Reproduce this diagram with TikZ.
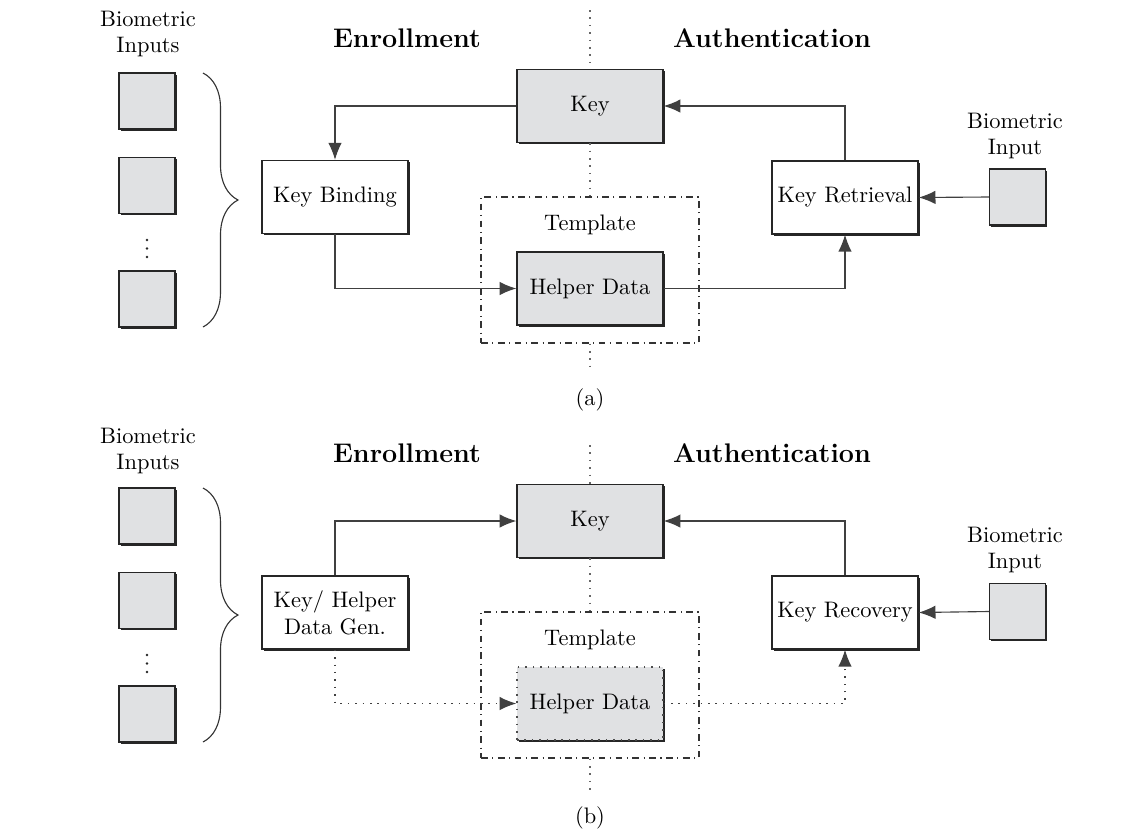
\documentclass[tikz,border=0pt]{standalone}
\usetikzlibrary{arrows.meta,shadows,decorations.pathreplacing}
\definecolor{boxgray}{RGB}{224,225,227}

\tikzset{
  blk/.style={draw=black!85, line width=0.6pt, fill=white, inner sep=0pt,
    minimum width=65.1pt, minimum height=32.6pt, align=center,
    drop shadow={shadow xshift=0.7pt, shadow yshift=-0.7pt, fill=black!85, opacity=1}},
  gblk/.style={blk, fill=boxgray},
  biobox/.style={gblk, minimum width=25pt, minimum height=25pt},
  tmpl/.style={draw=black!80, line width=0.5pt, dash dot, fill=white, inner sep=0pt,
    minimum width=97.2pt, minimum height=65.1pt},
  arr/.style={draw=black!75, line width=0.5pt, -{Latex[length=7.5pt,width=6pt]}},
  dotarr/.style={arr, dash pattern=on 0.7pt off 2.6pt},
  sep/.style={draw=black!60, line width=0.6pt, dash pattern=on 0.7pt off 2.6pt},
  brc/.style={draw=black!80, line width=0.5pt, decorate, decoration={brace, amplitude=15.6pt}},
  head/.style={font=\large\bfseries},
}

\begin{document}
\begin{tikzpicture}[x=0.446pt, y=-0.446pt]
  \useasboundingbox (0,0) rectangle (1145,833);

  % (a) key binding
  \coordinate (topa) at (590,10);
  \coordinate (bota) at (590,373);
  \node[align=center] (biosa) at (148,34) {Biometric\\Inputs};
  \node[biobox] (sa1) at (147,101) {};
  \node[biobox] (sa2) at (147,185.5) {};
  \foreach \y in {240,248.5,257}
    \fill[black!85] (147,\y) circle (0.6pt);
  \node[biobox] (sa3) at (147,299) {};
  \draw[brc] (203,73) -- (203,327);
  \node[head] (enra) at (407,38) {Enrollment};
  \node[head] (autha) at (772,38) {Authentication};

  \node[tmpl] (tpla) at (590,270) {};
  \node (tpltxta) at (590,225) {Template};
  \node[gblk] (keya) at (590,106) {Key};
  \node[blk] (binda) at (335,197) {Key Binding};
  \node[gblk] (helpa) at (590,288.5) {Helper Data};
  \node[blk] (retra) at (845,197.5) {Key Retrieval};
  \node[biobox] (ina) at (1017.5,197) {};
  \node[align=center] (inlbla) at (1015,136) {Biometric\\Input};

  \draw[sep] (topa) -- (keya.north);
  \draw[sep] (keya.south) -- (tpla.north);
  \draw[sep] (tpla.south) -- (bota);

  \draw[arr] (keya.west) -| (binda.north);
  \draw[arr] (binda.south) |- (helpa.west);
  \draw[arr] (helpa.east) -| (retra.south);
  \draw[arr] (retra.north) |- (keya.east);
  \draw[arr] (ina.west) -- (retra.east);
  \node (capa) at (590,400) {(a)};

  % (b) key generation
  \coordinate (topb) at (590,445);
  \coordinate (botb) at (590,790);
  \node[align=center] (biosb) at (148,451) {Biometric\\Inputs};
  \node[biobox] (sb1) at (147,516) {};
  \node[biobox] (sb2) at (147,600.5) {};
  \foreach \y in {655,663.5,672}
    \fill[black!85] (147,\y) circle (0.6pt);
  \node[biobox] (sb3) at (147,714) {};
  \draw[brc] (203,488) -- (203,742);
  \node[head] (enrb) at (407,453) {Enrollment};
  \node[head] (authb) at (772,453) {Authentication};

  \node[tmpl] (tplb) at (590,685) {};
  \node (tpltxtb) at (590,640) {Template};
  \node[gblk] (keyb) at (590,521) {Key};
  \node[blk] (genb) at (335,612.5) {Key/ Helper\\Data Gen.};
  \node[gblk, draw=black!70, dash pattern=on 0.7pt off 2.6pt, drop shadow={opacity=0}] (helpb) at (590,703.5) {Helper Data};
  \node[blk] (recb) at (845,612.5) {Key Recovery};
  \node[biobox] (inb) at (1017.5,611.5) {};
  \node[align=center] (inlblb) at (1015,550) {Biometric\\Input};

  \draw[sep] (topb) -- (keyb.north);
  \draw[sep] (keyb.south) -- (tplb.north);
  \draw[sep] (tplb.south) -- (botb);

  \draw[arr] (genb.north) |- (keyb.west);
  \draw[dotarr] (genb.south) |- (helpb.west);
  \draw[dotarr] (helpb.east) -| (recb.south);
  \draw[arr] (recb.north) |- (keyb.east);
  \draw[arr] (inb.west) -- (recb.east);
  \node (capb) at (590,818) {(b)};
\end{tikzpicture}
\end{document}
